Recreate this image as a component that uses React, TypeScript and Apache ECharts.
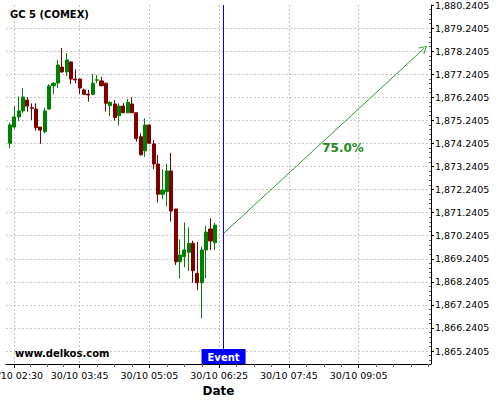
import React, { useEffect, useRef } from 'react';
import * as echarts from 'echarts';

// ---- data (5-minute candles, 30/10) ----
const times = [
  '02:25', '02:30', '02:35', '02:40', '02:45', '02:50', '02:55', '03:00',
  '03:05', '03:10', '03:15', '03:20', '03:25', '03:30', '03:35', '03:40',
  '03:45', '03:50', '03:55', '04:00', '04:05', '04:10', '04:15', '04:20',
  '04:25', '04:30', '04:35', '04:40', '04:45', '04:50', '04:55', '05:00',
  '05:05', '05:10', '05:15', '05:20', '05:25', '05:30', '05:35', '05:40',
  '05:45', '05:50', '05:55', '06:00', '06:05', '06:10', '06:15', '06:20',
];
const opens = [
  1874.25, 1874.95, 1875.39, 1875.65, 1876.12, 1875.79, 1875.73, 1874.95,
  1874.75, 1875.73, 1876.74, 1876.86, 1877.55, 1877.34, 1877.77, 1877.03,
  1877.03, 1876.56, 1876.38, 1876.37, 1876.98, 1876.95, 1876.85, 1875.88,
  1875.95, 1875.44, 1875.86, 1875.57, 1875.95, 1875.57, 1874.53, 1873.92,
  1875.04, 1874.22, 1873.35, 1872.04, 1872.15, 1873.05, 1871.40, 1869.11,
  1869.33, 1869.52, 1869.91, 1868.61, 1868.20, 1869.62, 1870.53, 1869.94,
];
const closes = [
  1875.04, 1875.39, 1875.65, 1876.25, 1875.86, 1875.76, 1874.92, 1874.82,
  1875.65, 1876.73, 1876.85, 1877.64, 1877.34, 1877.86, 1877.03, 1876.99,
  1876.64, 1876.37, 1876.34, 1876.85, 1877.00, 1876.74, 1875.98, 1876.02,
  1875.36, 1875.86, 1875.57, 1876.02, 1875.57, 1874.45, 1873.75, 1875.04,
  1874.25, 1873.35, 1872.04, 1872.22, 1873.05, 1871.31, 1869.11, 1869.40,
  1869.62, 1869.91, 1868.72, 1868.20, 1869.62, 1870.40, 1870.01, 1870.70,
];
const lows = [
  1874.03, 1874.87, 1875.21, 1875.56, 1875.62, 1875.26, 1874.79, 1874.22,
  1874.68, 1875.70, 1876.38, 1876.64, 1877.30, 1877.16, 1876.82, 1876.85,
  1876.38, 1876.34, 1876.05, 1876.33, 1876.85, 1876.72, 1875.62, 1875.43,
  1875.23, 1875.01, 1875.55, 1875.55, 1875.55, 1874.32, 1873.71, 1873.66,
  1874.22, 1873.13, 1871.68, 1871.82, 1871.51, 1870.85, 1868.97, 1868.39,
  1868.87, 1868.71, 1868.20, 1867.89, 1866.66, 1868.39, 1869.62, 1869.62,
];
const highs = [
  1875.14, 1875.86, 1876.27, 1876.63, 1876.25, 1875.98, 1875.98, 1874.95,
  1875.79, 1876.80, 1876.90, 1877.86, 1878.38, 1878.16, 1877.80, 1877.45,
  1877.05, 1876.62, 1876.56, 1877.25, 1877.21, 1877.13, 1876.88, 1876.08,
  1876.12, 1875.98, 1875.99, 1876.17, 1876.24, 1875.58, 1874.68, 1875.33,
  1875.06, 1874.39, 1873.74, 1873.12, 1873.35, 1873.83, 1871.40, 1870.08,
  1870.82, 1870.60, 1870.02, 1869.98, 1869.76, 1870.67, 1870.99, 1870.80,
];

const xTickLabels = ['02:30', '03:45', '05:05', '06:25', '07:45', '09:05'];
const yTickValues = [
  1865.2405, 1866.2405, 1867.2405, 1868.2405, 1869.2405, 1870.2405,
  1871.2405, 1872.2405, 1873.2405, 1874.2405, 1875.2405, 1876.2405,
  1877.2405, 1878.2405, 1879.2405, 1880.2405,
];
const xRangeMinutes = [140.5, 627.9];
const yRange = [1864.68, 1880.2405];

const eventTime = '06:30';
const eventLabel = 'Event';
const arrowStart = ['06:30', 1870.34];
const arrowEnd = ['10:20', 1878.36];
const percentText = '75.0%';
const percentAt = ['08:47', 1874.04];

const titleText = 'GC 5 (COMEX)';
const watermark = 'www.delkos.com';
const xAxisName = 'Date';

const FONT = '"DejaVu Sans", sans-serif';

const toMin = (t: string) => {
  const [h, m] = t.split(':').map(Number);
  return h * 60 + m;
};
const pad = (n: number) => String(n).padStart(2, '0');
const fmtTime = (v: number) => {
  const r = Math.round(v);
  return `30/10 ${pad(Math.floor(r / 60))}:${pad(r % 60)}`;
};
const fmtPrice = (v: number) => {
  const s = v.toFixed(4);
  const [i, d] = s.split('.');
  return i.replace(/\B(?=(\d{3})+(?!\d))/g, ',') + '.' + d;
};

export default function App() {
  const ref = useRef<HTMLDivElement>(null);

  useEffect(() => {
    if (!ref.current) return;
    const chart = echarts.init(ref.current, undefined, { renderer: 'svg' });

    const candleData = times.map((t, i) => [toMin(t), opens[i], closes[i], lows[i], highs[i]]);
    const xMajor = xTickLabels.map(toMin);
    const xMinor: number[] = [];
    for (let k = 0; k < xMajor.length - 1; k++) {
      for (let j = 1; j < 4; j++) xMinor.push(xMajor[k] + ((xMajor[k + 1] - xMajor[k]) * j) / 4);
    }
    const lastStep = (xMajor[xMajor.length - 1] - xMajor[xMajor.length - 2]) / 4;
    for (let v = xMajor[xMajor.length - 1] + lastStep; v < xRangeMinutes[1]; v += lastStep) xMinor.push(v);
    const yMinor: number[] = [];
    for (let k = 0; k < yTickValues.length; k++) {
      for (let j = 1; j < 5; j++) {
        const v = yTickValues[k] - j * 0.2;
        if (v > yRange[0]) yMinor.push(v);
      }
    }

    const grid = { lineStyle: { color: '#c4c4c4', type: [2, 2] as any, width: 1 } };
    const arrowColor = '#2f9a2f';

    chart.setOption({
      animation: false,
      backgroundColor: '#ffffff',
      title: {
        text: titleText,
        left: 10,
        top: 9,
        padding: 0,
        textStyle: { fontFamily: FONT, fontSize: 10, fontWeight: 'bold', color: '#000' },
      },
      grid: { left: 6, right: 69, top: 5, bottom: 36, containLabel: false, outerBoundsMode: 'none' },
      xAxis: [
        {
          type: 'value',
          min: xRangeMinutes[0],
          max: xRangeMinutes[1],
          name: xAxisName,
          nameLocation: 'middle',
          nameGap: 20,
          nameTextStyle: { fontFamily: FONT, fontSize: 12, fontWeight: 'bold', color: '#000' },
          axisLine: { show: true, lineStyle: { color: '#000', width: 1 } },
          axisTick: { show: true, customValues: xMajor, length: 4, lineStyle: { color: '#000' } },
          axisLabel: {
            customValues: xMajor,
            formatter: fmtTime,
            fontFamily: FONT,
            fontSize: 9.5,
            color: '#000',
            margin: 6,
            hideOverlap: false,
          },
          splitLine: { show: true, ...grid },
        },
        {
          type: 'value',
          min: xRangeMinutes[0],
          max: xRangeMinutes[1],
          position: 'bottom',
          axisLine: { show: false },
          axisTick: { show: true, customValues: xMinor, length: 3, lineStyle: { color: '#666' } },
          axisLabel: { show: false },
          splitLine: { show: false },
        },
      ],
      yAxis: [
        {
          type: 'value',
          position: 'right',
          min: yRange[0],
          max: yRange[1],
          axisLine: { show: true, lineStyle: { color: '#000', width: 1 } },
          axisTick: { show: true, customValues: yTickValues, length: 3, lineStyle: { color: '#000' } },
          axisLabel: {
            customValues: yTickValues,
            formatter: fmtPrice,
            fontFamily: FONT,
            fontSize: 9.5,
            color: '#000',
            margin: 4,
          },
          splitLine: { show: true, showMaxLine: false, ...grid },
        },
        {
          type: 'value',
          position: 'right',
          min: yRange[0],
          max: yRange[1],
          axisLine: { show: false },
          axisTick: { show: true, inside: true, customValues: yMinor, length: 2, lineStyle: { color: '#666' } },
          axisLabel: { show: false },
          splitLine: { show: false },
        },
      ],
      graphic: [
        {
          type: 'text',
          left: 15,
          top: 348,
          z: 100,
          style: { text: watermark, font: `bold 10px ${FONT}`, fill: '#000' },
        },
      ],
      series: [
        {
          type: 'candlestick',
          xAxisIndex: 0,
          yAxisIndex: 0,
          data: candleData,
          encode: { x: 0, y: [1, 2, 3, 4] },
          barWidth: 3.6,
          itemStyle: {
            color: '#008000',
            color0: '#800000',
            borderColor: '#008000',
            borderColor0: '#800000',
            borderWidth: 1,
          },
          markLine: {
            silent: true,
            animation: false,
            symbol: ['none', 'none'],
            label: { show: false },
            data: [
              {
                xAxis: toMin(eventTime),
                lineStyle: { color: '#0000ff', width: 1, type: 'solid' },
              },
              [
                {
                  coord: [toMin(arrowStart[0] as string), arrowStart[1]],
                  symbol: 'none',
                  lineStyle: { color: arrowColor, width: 1, type: 'solid' },
                },
                {
                  coord: [toMin(arrowEnd[0] as string), arrowEnd[1]],
                  symbol: 'path://M0,10 L5,0 L10,10 L8.8,10 L5,2.4 L1.2,10 Z',
                  symbolSize: [9, 8],
                  lineStyle: { color: arrowColor, width: 1, type: 'solid' },
                },
              ],
            ],
          },
          markPoint: {
            silent: true,
            animation: false,
            data: [
              {
                coord: [toMin(percentAt[0] as string), percentAt[1]],
                symbol: 'circle',
                symbolSize: 0,
                label: {
                  show: true,
                  position: 'inside',
                  formatter: percentText,
                  fontFamily: FONT,
                  fontSize: 12,
                  fontWeight: 'bold',
                  color: '#1e8a1e',
                },
              },
              {
                coord: [toMin(eventTime), yRange[0]],
                symbol: 'circle',
                symbolSize: 0,
                label: {
                  show: true,
                  position: 'top',
                  distance: 0,
                  formatter: eventLabel,
                  fontFamily: FONT,
                  fontSize: 10,
                  fontWeight: 'bold',
                  color: '#ffffff',
                  backgroundColor: '#0000ff',
                  padding: [2, 6, 1, 6],
                  lineHeight: 12,
                },
              },
            ],
          },
        },
      ],
    });

    return () => chart.dispose();
  }, []);

  return (
    <div
      ref={ref}
      style={{ position: 'fixed', left: 0, top: 0, width: 500, height: 400, background: '#fff' }}
    />
  );
}
